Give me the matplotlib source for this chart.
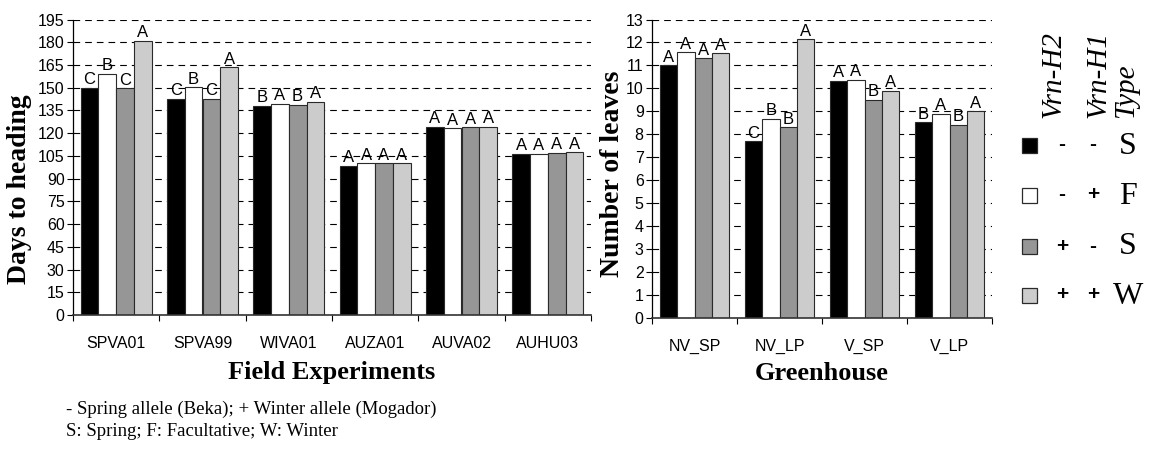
import matplotlib.pyplot as plt
import numpy as np
from matplotlib.patches import Rectangle

# field experiments: days to heading
field_sites = ["SPVA01", "SPVA99", "WIVA01", "AUZA01", "AUVA02", "AUHU03"]
field_days = [
    [150, 142.5, 138, 98.5, 124, 106.3],    # - -
    [159, 150.3, 139.5, 100, 123.2, 106.3], # - +
    [149.5, 142.5, 138.8, 100, 123.9, 107.1],  # + -
    [181, 163.5, 140.6, 100, 124, 107.3],   # + +
]
field_groups = [
    ["C", "C", "B", "A", "A", "A"],
    ["B", "B", "A", "A", "A", "A"],
    ["C", "C", "B", "A", "A", "A"],
    ["A", "A", "A", "A", "A", "A"],
]

# greenhouse: number of leaves
gh_conditions = ["NV_SP", "NV_LP", "V_SP", "V_LP"]
gh_leaves = [
    [11.0, 7.7, 10.34, 8.52],
    [11.57, 8.68, 10.37, 8.89],
    [11.31, 8.3, 9.51, 8.41],
    [11.53, 12.14, 9.9, 9.0],
]
gh_groups = [
    ["A", "C", "A", "B"],
    ["A", "B", "A", "A"],
    ["A", "B", "B", "B"],
    ["A", "A", "A", "A"],
]

vrn_h2 = ["-", "-", "+", "+"]
vrn_h1 = ["-", "+", "-", "+"]
growth_type = ["S", "F", "S", "W"]
bar_colors = ["#000000", "#ffffff", "#969696", "#cccccc"]

footnotes = ["- Spring allele (Beka); + Winter allele (Mogador)",
             "S: Spring; F: Facultative; W: Winter"]

W, H = 1150, 459
SANS = "Liberation Sans"
SERIF = "Liberation Serif"

fig = plt.figure(figsize=(W / 100, H / 100), dpi=100)


def fx(px):
    return px / W


def fy(py):
    return 1 - py / H


def bar_panel(ax, cats, values, groups, ymax, ystep, xlabel, ylabel, ylab_pos):
    n = len(cats)
    x = np.arange(n)
    width = 0.205
    for i, (vals, letters) in enumerate(zip(values, groups)):
        pos = x + (i - 1.5) * width
        bars = ax.bar(pos, vals, width, color=bar_colors[i], edgecolor="#2a2a2a",
                      linewidth=0.8, zorder=2)
        for b, lab in zip(bars, letters):
            ax.annotate(lab, (b.get_x() + b.get_width() / 2, b.get_height()),
                        xytext=(0, 0.5), textcoords="offset points",
                        ha="center", va="bottom", fontsize=12, family=SANS)
    ax.set_xlim(-0.5, n - 0.5)
    ax.set_ylim(0, ymax)
    ax.set_yticks(np.arange(0, ymax + ystep / 2, ystep))
    ax.yaxis.grid(True, color="black", linestyle=(0, (6, 4.5)), linewidth=0.8, zorder=0)
    ax.set_axisbelow(True)
    ax.set_xticks(x, cats)
    ax.set_xticks(np.arange(n + 1) - 0.5, minor=True)
    ax.tick_params(axis="x", which="major", length=0, pad=15)
    ax.tick_params(axis="x", which="minor", length=4, width=0.8, direction="out")
    ax.tick_params(axis="y", length=4, width=0.8, direction="out", pad=2)
    for lab in ax.get_xticklabels() + ax.get_yticklabels():
        lab.set_family(SANS)
        lab.set_fontsize(11.5)
    for s in ("top", "right"):
        ax.spines[s].set_visible(False)
    ax.spines["left"].set_linewidth(0.9)
    ax.spines["bottom"].set_linewidth(1.2)
    ax.spines["bottom"].set_color("#333333")
    ax.set_xlabel(xlabel, family=SERIF, fontweight="bold", fontsize=19)
    ax.xaxis.label.set_va("center")
    ax.set_ylabel(ylabel, family=SERIF, fontweight="bold", fontsize=20)
    ax.yaxis.label.set_va("center")
    ax.yaxis.set_label_coords(*ylab_pos)


ax1 = fig.add_axes([fx(73), fy(315), fx(591 - 73), (315 - 19.5) / H])
bar_panel(ax1, field_sites, field_days, field_groups, 195, 15,
          "Field Experiments", "Days to heading", (-0.104, 0.425))
ax1.xaxis.set_label_coords(0.5, -(373 - 315) / 295.5)

ax2 = fig.add_axes([fx(652), fy(318), fx(992 - 652), (318 - 19.5) / H])
bar_panel(ax2, gh_conditions, gh_leaves, gh_groups, 13, 1,
          "Greenhouse", "Number of leaves", (-0.115, 0.482))
ax2.xaxis.set_label_coords(0.5, -(373 - 318) / 298.5)

# genotype key on the right
for j, (txt, xc) in enumerate(zip(["Vrn-H2", "Vrn-H1", "Type"], [1053, 1098, 1126])):
    fig.text(fx(xc), fy(118), txt, rotation=90, ha="center", va="bottom",
             family=SERIF, style="italic", fontsize=21)

row_y = [145, 195, 246, 295]
sq = 15
for i, yc in enumerate(row_y):
    fig.add_artist(Rectangle((fx(1029 - sq / 2), fy(yc + sq / 2)), fx(sq), sq / H,
                             facecolor=bar_colors[i], edgecolor="#2a2a2a",
                             linewidth=0.9, transform=fig.transFigure))
    fig.text(fx(1062), fy(yc), vrn_h2[i], ha="center", va="center",
             family=SANS, fontsize=15, fontweight="bold")
    fig.text(fx(1093), fy(yc), vrn_h1[i], ha="center", va="center",
             family=SANS, fontsize=15, fontweight="bold")
    fig.text(fx(1128), fy(yc + 1), growth_type[i], ha="center", va="center",
             family=SERIF, fontsize=23)

for k, line in enumerate(footnotes):
    fig.text(fx(66), fy(409 + 22 * k), line, ha="left", va="center",
             family=SERIF, fontsize=13.5)

fig.savefig("out.png", dpi=100)
